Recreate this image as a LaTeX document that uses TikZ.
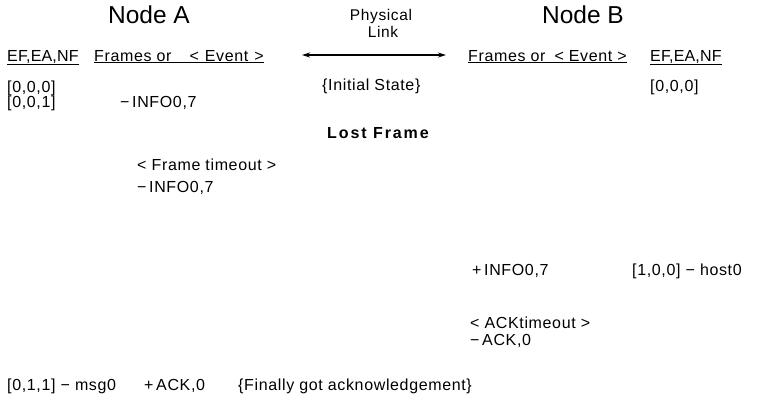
\documentclass[tikz,border=0pt]{standalone}
\usepackage{fontspec}
\setmainfont{Liberation Sans}[LetterSpace=4]
\newfontfamily\titlefont{Liberation Sans}
\newfontfamily\tightfont{Liberation Sans}[LetterSpace=1]
\newfontfamily\lostfont{Liberation Sans}[LetterSpace=12]
\usetikzlibrary{arrows.meta}
\begin{document}
\begin{tikzpicture}[x=1pt,y=-1pt,
  txt/.style={anchor=base west, inner sep=0pt, font=\fontsize{16}{19}\selectfont},
  ttl/.style={anchor=base, inner sep=0pt, font=\fontsize{24.5}{30}\titlefont},
  sml/.style={anchor=base, inner sep=0pt, font=\fontsize{15.5}{18}\selectfont},
  lnk/.style={{Stealth[length=8pt,width=5pt]}-{Stealth[length=8pt,width=5pt]}, line width=1.2pt}]
\useasboundingbox (0,0) rectangle (762,413);
% titles
\node[ttl] (na) at (149,23) {Node A};
\node[ttl] (nb) at (583,23) {Node B};
\node[sml] (phys) at (381,20) {Physical};
\node[sml] (link) at (383,37) {Link};
% headers
\node[txt, font=\fontsize{16}{19}\tightfont] (hA1) at (7,61) {\underline{EF,EA,NF}};
\node[txt] (hA2) at (94,61) {\underline{Frames or\hspace{18pt}<\hspace{6pt}Event\hspace{6pt}>}};
\node[txt] (hB1) at (468,61) {\underline{Frames or\hspace{9pt}<\hspace{5pt}Event\hspace{5pt}>}};
\node[txt, font=\fontsize{16}{19}\tightfont] (hB2) at (650,61) {\underline{EF,EA,NF}};
\coordinate (la) at (302,55);
\coordinate (lb) at (446,55);
\draw[lnk] (la) -- (lb);
% rows
\node[txt] (s1) at (7,92) {[0,0,0]};
\node[txt] (init) at (322,90) {\{Initial State\}};
\node[txt] (s1b) at (650,91) {[0,0,0]};
\node[txt] (s2) at (7,107) {[0,0,1]};
\node[txt] (f1) at (120,107) {−\,INFO0,7};
\node[anchor=base, inner sep=0pt, font=\fontsize{16}{19}\lostfont\bfseries] (lost) at (378,138) {Lost Frame};
\node[txt] (to1) at (137,170) {< Frame timeout >};
\node[txt] (f2) at (137,192) {−\,INFO0,7};
\node[txt] (r1) at (472,275) {+\,INFO0,7};
\node[txt] (s3) at (632,275) {[1,0,0] − host0};
\node[txt] (to2) at (470,328) {< ACKtimeout >};
\node[txt] (a1) at (470,345) {−\,ACK,0};
\node[txt] (s4) at (7,390) {[0,1,1] − msg0};
\node[txt] (a2) at (144,390) {+\,ACK,0};
\node[txt] (fin) at (238,390) {\{Finally got acknowledgement\}};
\end{tikzpicture}
\end{document}
